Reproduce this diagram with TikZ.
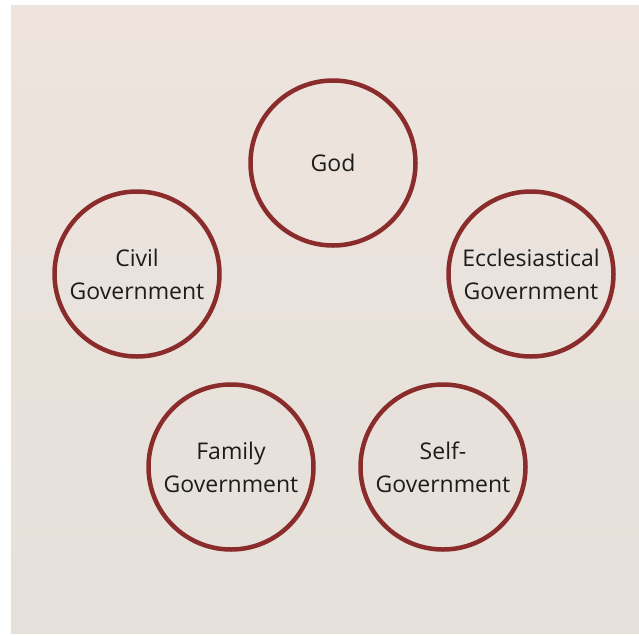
\documentclass[tikz,border=0pt]{standalone}
\usepackage{fontspec}
\setmainfont{Open Sans}
\definecolor{ring}{HTML}{8A2C2C}
\definecolor{bgtop}{HTML}{EEE4DD}
\definecolor{bgbot}{HTML}{E5E0DA}
\definecolor{txt}{HTML}{1C1C1C}
\begin{document}
\begin{tikzpicture}[x=1pt,y=-1pt,
  ringnode/.style={circle, draw=ring, line width=4.5pt, minimum size=165pt, inner sep=0pt,
    align=center, text=txt, font=\fontsize{23}{33}\selectfont}]
\useasboundingbox (0,0) rectangle (639,635);
\fill[white] (0,0) rectangle (639,635);
\shade[top color=bgtop, bottom color=bgbot] (11,5) rectangle (639,633);
\node[ringnode] (god) at (333,163) {God};
\node[ringnode] (eccl) at (531,274) {Ecclesiastical\\Government};
\node[ringnode] (civil) at (137,274) {Civil\\Government};
\node[ringnode] (family) at (231,467) {Family\\Government};
\node[ringnode] (self) at (443,467) {Self-\\Government};
\end{tikzpicture}
\end{document}
